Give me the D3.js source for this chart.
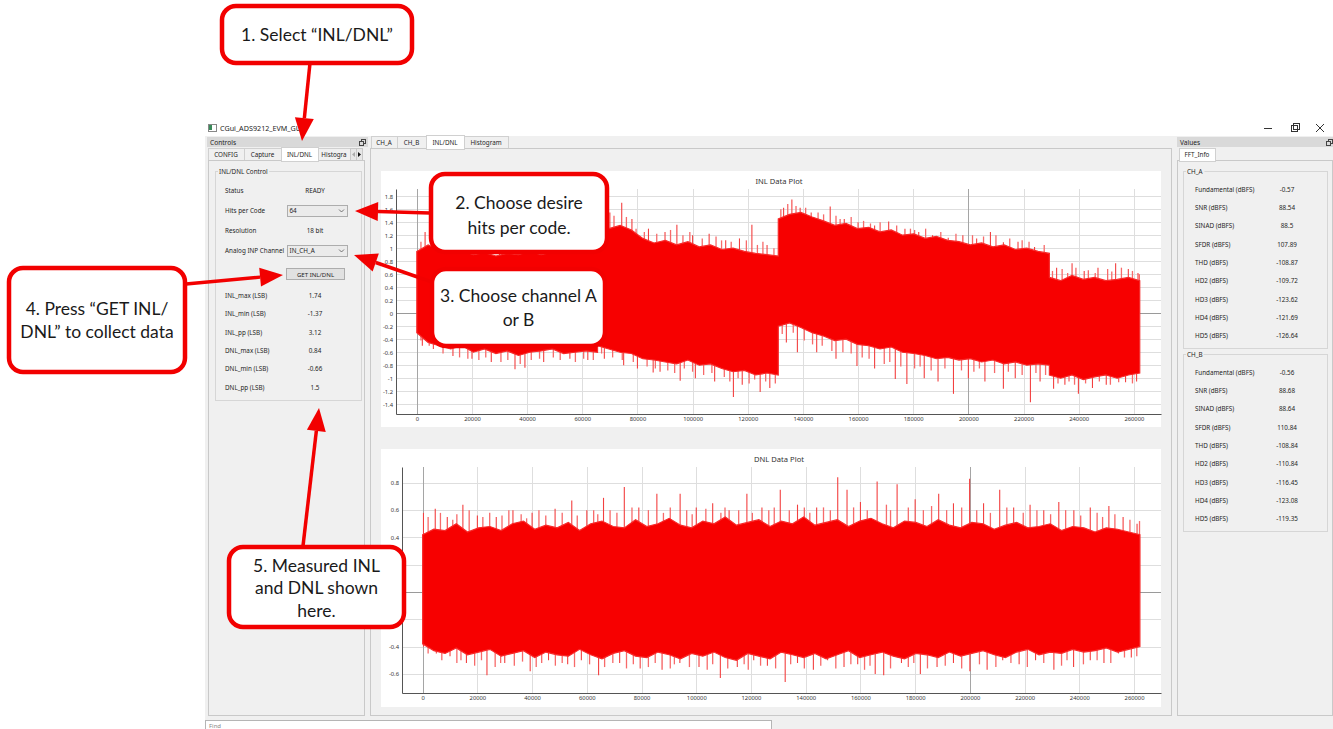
<!DOCTYPE html>
<html>
<head>
<meta charset="utf-8">
<script src="https://cdn.jsdelivr.net/npm/d3@7"></script>
<style>
  body { margin: 0; background: #fff; }
  svg { display: block; }
</style>
</head>
<body>
<div id="chart"></div>
<script>
// ---- INL trace: visible dense band (upper / lower edge), fringe hits and outlying spikes ----
var inlCodes = [0, 4096, 8192, 12288, 16384, 20480, 24576, 28672, 32768, 36864, 40960, 45056, 49152, 53248, 57344, 61440, 65535,
  65536, 69632, 73728, 77824, 81920, 86016, 90112, 94208, 98304, 102400, 106496, 110592, 114688, 118784, 122880, 126976, 131071,
  131072, 135168, 139264, 143360, 147456, 151552, 155648, 159744, 163840, 167936, 172032, 176128, 180224, 184320, 188416,
  192512, 196608, 200704, 204800, 208896, 212992, 217088, 221184, 225280, 229375,
  229376, 233472, 237568, 241664, 245760, 249856, 253952, 258048, 262143];
var inlUpper = [0.95, 1.05, 0.98, 0.92, 0.96, 0.9, 0.93, 0.88, 0.92, 0.9, 0.95, 0.9, 0.94, 0.92, 0.97, 0.93, 1.0,
  1.25, 1.3, 1.35, 1.28, 1.15, 1.08, 1.12, 1.05, 1.1, 1.02, 1.05, 0.98, 1.0, 0.95, 0.92, 0.9, 0.88,
  1.45, 1.52, 1.55, 1.48, 1.42, 1.35, 1.38, 1.3, 1.32, 1.25, 1.28, 1.2, 1.22, 1.15, 1.18,
  1.12, 1.1, 1.05, 1.08, 1.02, 1.05, 0.98, 1.0, 0.95, 0.92,
  0.55, 0.5, 0.58, 0.52, 0.55, 0.5, 0.52, 0.55, 0.5];
var inlLower = [-0.3, -0.45, -0.5, -0.55, -0.5, -0.6, -0.55, -0.62, -0.58, -0.65, -0.6, -0.58, -0.55, -0.62, -0.6, -0.58, -0.6,
  -0.5, -0.55, -0.6, -0.62, -0.7, -0.72, -0.75, -0.78, -0.72, -0.8, -0.78, -0.85, -0.9, -0.88, -0.95, -0.92, -0.95,
  -0.2, -0.15, -0.22, -0.3, -0.35, -0.42, -0.4, -0.48, -0.5, -0.55, -0.52, -0.6, -0.62, -0.65, -0.7,
  -0.68, -0.72, -0.7, -0.75, -0.72, -0.78, -0.75, -0.8, -0.78, -0.8,
  -0.95, -1.0, -0.95, -1.02, -0.98, -0.95, -1.0, -0.95, -0.92];
var inlFringeHi = [[1500,1.1],[5500,1.12],[10000,1.05],[14500,1.08],[17500,1.02],[23000,1.05],[26000,0.98],
  [33500,1.02],[36000,1.05],[42000,1.0],[44000,1.06],[50500,1.08],[53000,1.0],[58500,1.1],[63000,1.12],
  [67500,1.45],[71500,1.5],[76000,1.48],[79500,1.3],[82500,1.25],[87000,1.22],[92000,1.28],[96500,1.2],
  [99000,1.25],[103500,1.15],[108500,1.18],[110500,1.12],[114000,1.1],[119500,1.12],[123500,1.05],
  [125500,1.1],[129500,1.0],[132000,1.6],[134500,1.68],[137500,1.65],[141000,1.62],[145500,1.55],
  [147500,1.52],[152000,1.5],[153500,1.45],[157500,1.48],[162000,1.42],[164500,1.38],[168000,1.4],
  [174000,1.35],[179000,1.3],[180500,1.28],[184500,1.3],[190000,1.25],[195500,1.22],[201500,1.2],
  [205500,1.18],[210000,1.2],[215000,1.15],[219500,1.12],[222000,1.1],[227500,1.05],[230500,0.65],
  [234000,0.68],[236000,0.62],[239000,0.7],[243500,0.66],[246000,0.62],[250500,0.68],[252000,0.64],
  [255500,0.7],[259500,0.65],[262000,0.6]];
var inlFringeLo = [[1500,-0.42],[4500,-0.5],[9500,-0.62],[15500,-0.68],[18500,-0.7],[22500,-0.72],[25000,-0.68],
  [30500,-0.75],[33000,-0.72],[37500,-0.78],[41500,-0.72],[44500,-0.7],[49500,-0.68],[52000,-0.72],
  [57500,-0.75],[60500,-0.7],[64000,-0.72],[67000,-0.62],[71000,-0.68],[74500,-0.72],[78500,-0.75],
  [83500,-0.82],[86500,-0.85],[91000,-0.88],[93500,-0.92],[97000,-0.85],[100000,-0.9],[104000,-0.95],
  [107000,-0.92],[111500,-0.98],[113500,-1.05],[116500,-1.0],[120500,-1.08],[122500,-1.02],[126500,-1.05],
  [130000,-1.08],[132500,-0.32],[136500,-0.3],[140500,-0.42],[143500,-0.48],[147000,-0.5],[150500,-0.58],
  [154500,-0.6],[157500,-0.62],[161500,-0.68],[164000,-0.7],[169500,-0.78],[171500,-0.75],[175500,-0.82],
  [180500,-0.85],[182500,-0.82],[186500,-0.88],[191500,-0.85],[197500,-0.88],[202000,-0.9],[204000,-0.85],
  [209500,-0.92],[214500,-0.9],[219500,-0.95],[224500,-0.92],[228000,-0.95],[232500,-1.08],[236500,-1.05],
  [238500,-1.1],[242500,-1.08],[247500,-1.05],[251500,-1.1],[254500,-1.06],[259500,-1.08]];
var inlSpikesHi = [[3000,1.25],[8000,1.18],[12000,1.1],[20000,1.0],[30000,0.98],[38000,0.98],[47000,1.0],
  [55000,1.02],[61000,1.05],[66500,1.4],[70000,1.55],[74300,1.7],[78000,1.45],[84000,1.3],[90000,1.25],
  [94300,1.36],[100000,1.2],[106000,1.22],[112000,1.12],[117000,1.15],[121500,1.36],[127000,1.05],
  [133000,1.62],[136000,1.75],[139000,1.62],[143000,1.55],[149900,1.64],[155000,1.45],[160000,1.4],
  [166000,1.35],[171100,1.41],[177000,1.3],[182000,1.25],[187000,1.2],[192700,1.16],[198000,1.2],
  [203000,1.15],[208000,1.25],[212700,1.09],[218000,1.1],[224000,1.02],[232000,0.7],[237600,0.77],
  [242000,0.65],[247000,0.7],[253400,0.77],[258000,0.68],[261500,0.62]];
var inlSpikesLo = [[2000,-0.5],[6000,-0.55],[13100,-0.66],[20000,-0.7],[27000,-0.75],[35600,-0.86],
  [39200,-0.84],[46000,-0.75],[55500,-0.7],[62000,-0.72],[68000,-0.7],[75000,-0.8],[80000,-0.85],
  [85700,-0.91],[88200,-0.9],[95500,-1.04],[101000,-1.0],[108000,-1.05],[114800,-1.29],[118000,-1.1],
  [124500,-1.21],[128000,-1.15],[134000,-0.45],[138000,-0.6],[145000,-0.6],[152000,-0.7],[159600,-0.81],
  [166000,-0.85],[173500,-1.01],[177700,-1.09],[184000,-1.0],[189000,-1.05],[194600,-1.24],[200000,-1.0],
  [206000,-1.05],[212700,-1.16],[217000,-1.0],[222500,-1.37],[226000,-1.05],[230900,-1.16],[235000,-1.1],
  [239900,-1.24],[245000,-1.15],[250000,-1.1],[257000,-1.06],[261000,-1.05]];

// ---- DNL trace ----
var dnlCodes = [0, 4096, 8192, 12288, 16384, 20480, 24576, 28672, 32768, 36864, 40960, 45056, 49152, 53248, 57344, 61440,
  65536, 69632, 73728, 77824, 81920, 86016, 90112, 94208, 98304, 102400, 106496, 110592, 114688, 118784, 122880, 126976,
  131072, 135168, 139264, 143360, 147456, 151552, 155648, 159744, 163840, 167936, 172032, 176128, 180224, 184320, 188416,
  192512, 196608, 200704, 204800, 208896, 212992, 217088, 221184, 225280, 229376, 233472, 237568, 241664, 245760, 249856,
  253952, 258048, 262143];
var dnlUpper = [0.42, 0.46, 0.45, 0.5, 0.44, 0.47, 0.48, 0.45, 0.5, 0.52,
  0.46, 0.49, 0.47, 0.51, 0.45, 0.5, 0.52, 0.48, 0.47, 0.53,
  0.48, 0.5, 0.54, 0.49, 0.47, 0.52, 0.5, 0.55, 0.49, 0.51,
  0.53, 0.48, 0.52, 0.5, 0.55, 0.49, 0.51, 0.53, 0.48, 0.52,
  0.54, 0.5, 0.47, 0.52, 0.51, 0.48, 0.53, 0.49, 0.47, 0.51,
  0.5, 0.46, 0.49, 0.51, 0.47, 0.48, 0.5, 0.45, 0.48, 0.47,
  0.44, 0.47, 0.46, 0.44, 0.42];
var dnlLower = [-0.38, -0.43, -0.45, -0.41, -0.46, -0.44, -0.42, -0.47, -0.45, -0.43,
  -0.48, -0.44, -0.46, -0.47, -0.42, -0.46, -0.49, -0.45, -0.43, -0.47,
  -0.48, -0.44, -0.46, -0.49, -0.45, -0.47, -0.44, -0.48, -0.5, -0.45,
  -0.47, -0.49, -0.44, -0.46, -0.48, -0.45, -0.49, -0.46, -0.43, -0.48,
  -0.46, -0.44, -0.47, -0.49, -0.45, -0.46, -0.48, -0.44, -0.47, -0.45,
  -0.43, -0.46, -0.48, -0.44, -0.42, -0.46, -0.44, -0.45, -0.42, -0.44,
  -0.43, -0.41, -0.44, -0.42, -0.4];
var dnlFringeHi = [[2000,0.55],[6500,0.58],[11000,0.53],[12500,0.57],[17000,0.6],[22000,0.55],[24500,0.58],
  [29000,0.56],[31500,0.6],[36000,0.57],[38000,0.54],[42500,0.6],[45000,0.56],[51000,0.58],[56500,0.56],
  [62500,0.6],[64000,0.57],[68500,0.6],[71000,0.58],[76500,0.62],[82500,0.6],[88000,0.58],[90500,0.62],
  [96500,0.6],[98500,0.57],[103500,0.61],[109000,0.58],[110500,0.62],[115500,0.6],[120500,0.58],[126500,0.6],
  [128500,0.62],[134000,0.6],[139500,0.62],[141500,0.58],[146500,0.62],[149000,0.6],[157500,0.62],[162500,0.6],
  [169500,0.64],[171000,0.6],[177500,0.62],[183000,0.6],[186000,0.63],[191500,0.6],[197000,0.62],[202500,0.6],
  [207500,0.58],[213500,0.62],[219500,0.58],[224500,0.6],[229500,0.57],[235000,0.6],[240500,0.56],[246500,0.58],
  [248500,0.55],[253000,0.57],[258500,0.53],[262000,0.52]];
var dnlFringeLo = [[2000,-0.45],[7000,-0.5],[12500,-0.52],[14000,-0.5],[19000,-0.54],[21500,-0.5],[26500,-0.55],
  [28500,-0.52],[33500,-0.54],[36500,-0.51],[41500,-0.55],[43500,-0.52],[48500,-0.54],[51000,-0.52],[55500,-0.55],
  [61000,-0.53],[66500,-0.55],[69500,-0.52],[74500,-0.56],[77000,-0.53],[82500,-0.55],[85000,-0.52],[90500,-0.56],
  [92000,-0.53],[97500,-0.55],[104000,-0.57],[106000,-0.53],[111500,-0.56],[117500,-0.53],[119000,-0.57],
  [123500,-0.54],[129000,-0.56],[134500,-0.53],[139500,-0.56],[145500,-0.54],[151000,-0.56],[156500,-0.53],
  [161500,-0.57],[163500,-0.54],[171000,-0.56],[177500,-0.55],[179500,-0.52],[184500,-0.56],[191000,-0.54],
  [197000,-0.56],[203500,-0.53],[209500,-0.55],[215000,-0.52],[221000,-0.55],[227000,-0.52],[233500,-0.54],
  [235500,-0.5],[241500,-0.53],[246500,-0.5],[251500,-0.52],[256500,-0.48],[261000,-0.47]];
var dnlSpikesHi = [[300,0.58],[4600,0.61],[9000,0.55],[14700,0.64],[20000,0.56],[26900,0.55],[33000,0.6],
  [40000,0.58],[48400,0.61],[54500,0.67],[60000,0.6],[66100,0.69],[73700,0.77],[79000,0.62],[85600,0.72],
  [94100,0.72],[100000,0.62],[106000,0.65],[112000,0.6],[118500,0.72],[124000,0.62],[130700,0.75],
  [137000,0.64],[144000,0.62],[151700,0.84],[155100,0.75],[160000,0.66],[166100,0.81],[173400,0.79],
  [180000,0.68],[188600,0.72],[194000,0.65],[199900,0.83],[205000,0.65],[210900,0.75],[216000,0.62],
  [222000,0.64],[227000,0.6],[232500,0.66],[238000,0.6],[244000,0.62],[250800,0.63],[256000,0.55],[261100,0.5]];
var dnlSpikesLo = [[300,-0.4],[5000,-0.45],[10000,-0.47],[16000,-0.52],[23500,-0.61],[30000,-0.52],
  [39300,-0.58],[46000,-0.5],[53000,-0.53],[58000,-0.5],[64300,-0.61],[72000,-0.52],[79500,-0.56],
  [87500,-0.57],[94000,-0.52],[101000,-0.55],[108800,-0.63],[115000,-0.55],[121000,-0.5],[126000,-0.54],
  [132500,-0.66],[137000,-0.52],[142800,-0.57],[148000,-0.5],[154000,-0.55],[159000,-0.53],[165400,-0.6],
  [168500,-0.61],[175000,-0.52],[181900,-0.6],[188000,-0.55],[194000,-0.52],[200000,-0.58],[206300,-0.57],
  [212000,-0.5],[218000,-0.53],[224000,-0.5],[230700,-0.57],[237900,-0.55],[244000,-0.5],[249000,-0.52],
  [254300,-0.45],[259000,-0.48]];

// ---- ticks ----
var codeTicks = [0, 20000, 40000, 60000, 80000, 100000, 120000, 140000, 160000, 180000, 200000, 220000, 240000, 260000];
var inlTicks = [-1.4, -1.2, -1, -0.8, -0.6, -0.4, -0.2, 0, 0.2, 0.4, 0.6, 0.8, 1, 1.2, 1.4, 1.6, 1.8];
var dnlTicks = [-0.6, -0.4, -0.2, 0, 0.2, 0.4, 0.6, 0.8];

// ---- GUI text ----
var setupLabels = ["Status", "Hits per Code", "Resolution", "Analog INP Channel"];
var setupValues = ["READY", "64", "18 bit", "IN_CH_A"];
var resultLabels = ["INL_max (LSB)", "INL_min (LSB)", "INL_pp (LSB)", "DNL_max (LSB)", "DNL_min (LSB)", "DNL_pp (LSB)"];
var resultValues = ["1.74", "-1.37", "3.12", "0.84", "-0.66", "1.5"];
var fftLabels = ["Fundamental (dBFS)", "SNR (dBFS)", "SINAD (dBFS)", "SFDR (dBFS)", "THD (dBFS)",
  "HD2 (dBFS)", "HD3 (dBFS)", "HD4 (dBFS)", "HD5 (dBFS)"];
var chAValues = ["-0.57", "88.54", "88.5", "107.89", "-108.87", "-109.72", "-123.62", "-121.69", "-126.64"];
var chBValues = ["-0.56", "88.68", "88.64", "110.84", "-108.84", "-110.84", "-116.45", "-123.08", "-119.35"];

var ui = "'Noto Sans', 'DejaVu Sans', sans-serif";
var callRed = "#f20000";

var svg = d3.select("#chart").append("svg")
    .attr("width", 1333)
    .attr("height", 729);

function rect(x, y, w, h, fill, stroke) {
  return svg.append("rect").attr("x", x).attr("y", y).attr("width", w).attr("height", h)
    .attr("fill", fill).attr("stroke", stroke || "none").attr("shape-rendering", "crispEdges");
}
function txt(x, y, s, size, anchor, fill) {
  return svg.append("text").attr("x", x).attr("y", y)
    .attr("font-family", ui).attr("font-size", size)
    .attr("text-anchor", anchor || "start")
    .attr("dominant-baseline", "central")
    .attr("fill", fill || "#1e1e1e").text(s);
}

// window frame
rect(205, 136, 1128, 593, "#f0f0f0");
rect(208, 124, 8, 7, "#fff", "#888");
rect(209, 125, 3, 5, "#3a8a5a");
txt(220, 128, "CGui_ADS9212_EVM_GUI", 7.2);
svg.append("line").attr("x1", 1264).attr("x2", 1272).attr("y1", 128.5).attr("y2", 128.5).attr("stroke", "#333");
rect(1291.5, 125.5, 6, 6, "none", "#333");
rect(1293.5, 123.5, 6, 6, "none", "#333");
svg.append("path").attr("d", "M1316,124L1324,132M1324,124L1316,132").attr("stroke", "#333");

// dock title bars
function floatIcon(x, y) {
  rect(x + 1.5, y - 2.5, 4, 4, "none", "#444");
  rect(x - 0.5, y - 0.5, 4, 4, "#dadada", "#444");
}
rect(207, 137, 161, 10, "#d9d9d9");
txt(210, 142, "Controls", 6.6);
floatIcon(360, 142);
rect(1177, 137, 156, 10, "#d9d9d9");
txt(1180, 142, "Values", 6.6);
floatIcon(1327, 142);

// tabs
function tabs(list, y, h) {
  list.forEach(function(t) {
    rect(t[0] + 0.5, y + 0.5, t[1] - t[0], h, t[3] ? "#fff" : "#f0f0f0", "#d0d0d0");
    txt((t[0] + t[1]) / 2, y + h / 2 + 0.5, t[2], 6.3, "middle");
  });
}
tabs([[208, 244, "CONFIG"], [244, 281, "Capture"], [318, 350, "Histogra"]], 148, 12);
rect(350.5, 148.5, 6, 12, "#e6e6e6", "#c8c8c8");
rect(356.5, 148.5, 6, 12, "#e6e6e6", "#c8c8c8");
svg.append("path").attr("d", "M355,152L352,154.5L355,157Z").attr("fill", "#aaa");
svg.append("path").attr("d", "M358,152L361,154.5L358,157Z").attr("fill", "#111");
tabs([[371, 397, "CH_A"], [397, 426, "CH_B"], [464, 508, "Histogram"]], 136, 12);

// panes
rect(208.5, 160.5, 156, 555, "#f0f0f0", "#c9c9c9");
rect(370.5, 148.5, 801, 567, "#f0f0f0", "#c9c9c9");
rect(1177.5, 160.5, 155, 555, "#f0f0f0", "#c9c9c9");
// selected tabs drawn over pane borders
tabs([[281, 318, "INL/DNL", true]], 147, 13.5);
tabs([[426, 464, "INL/DNL", true]], 135, 13.5);
tabs([[1179, 1215, "FFT_Info", true]], 148, 12.5);

function groupBox(x, y, w, h, title) {
  rect(x + 0.5, y + 0.5, w, h, "none", "#d6d6d6");
  var t = txt(x + 4, y + 0.5, title, 6.3);
  var bb = t.node().getBBox();
  svg.insert("rect", function() { return t.node(); })
    .attr("x", bb.x - 1).attr("y", bb.y).attr("width", bb.width + 2).attr("height", bb.height)
    .attr("fill", "#f0f0f0");
}

// INL/DNL control group
groupBox(215, 171, 146, 229, "INL/DNL Control");
var setupY = [190, 210.5, 230.5, 250.5];
setupLabels.forEach(function(l, i) {
  txt(225, setupY[i], l, 6.3);
  if (i === 1 || i === 3) {
    rect(287.5, setupY[i] - 5.5, 60, 11, "#ebebeb", "#adadad");
    txt(289.5, setupY[i], setupValues[i], 6.3);
    svg.append("path").attr("d", "M339," + (setupY[i] - 1) + "l2.5,2.5l2.5,-2.5")
      .attr("fill", "none").attr("stroke", "#555").attr("stroke-width", 0.8);
  } else {
    txt(315, setupY[i], setupValues[i], 6.3, "middle");
  }
});
rect(286.5, 268.5, 58, 11, "#e1e1e1", "#adadad");
txt(315.5, 274, "GET INL/DNL", 6.1, "middle");
resultLabels.forEach(function(l, i) {
  var y = 295.5 + i * 18.3;
  txt(225, y, l, 6.3);
  txt(315, y, resultValues[i], 6.3, "middle");
});

// FFT info groups
function fftGroup(y0, title, values) {
  groupBox(1183, y0, 144, 177, title);
  fftLabels.forEach(function(l, i) {
    var y = y0 + 18 + i * 18.35;
    txt(1195, y, l, 6.3);
    txt(1287, y, values[i], 6.3, "middle");
  });
}
fftGroup(171, "CH_A", chAValues);
fftGroup(354, "CH_B", chBValues);

// find bar
rect(205.5, 720.5, 566, 10, "#fff", "#b5b5b5");
txt(209, 726, "Find", 6, "start", "#888");

// ---- plots ----
function drawPlot(p) {
  rect(p.px, p.py, p.pw, p.ph, "#fff");
  txt(p.px + p.pw / 2 + 8, p.py + 10, p.title, 7.6, "middle", "#333");

  var x = d3.scaleLinear().domain([-7550, 269850]).range([p.left, p.right]);
  var y = d3.scaleLinear().domain(p.yDomain).range([p.bottom, p.top]);
  var g = svg.append("g");

  g.selectAll("line.hg").data(p.yTicks).enter().append("line")
    .attr("x1", p.left).attr("x2", p.right)
    .attr("y1", function(d) { return Math.round(y(d)) + 0.5; })
    .attr("y2", function(d) { return Math.round(y(d)) + 0.5; })
    .attr("stroke", function(d) { return d === 0 ? "#9a9a9a" : "#dedede"; });
  g.selectAll("line.vg").data(codeTicks).enter().append("line")
    .attr("y1", p.top).attr("y2", p.bottom)
    .attr("x1", function(d) { return Math.round(x(d)) + 0.5; })
    .attr("x2", function(d) { return Math.round(x(d)) + 0.5; })
    .attr("stroke", function(d) { return (d === 0 || d === 200000) ? "#a5a5a5" : "#dedede"; });

  var clipId = "clip" + p.title.charAt(0);
  svg.append("clipPath").attr("id", clipId).append("rect")
    .attr("x", p.left).attr("y", p.top).attr("width", p.right - p.left).attr("height", p.bottom - p.top);
  var d = g.append("g").attr("clip-path", "url(#" + clipId + ")");

  var band = p.codes.map(function(c, i) { return {c: c, hi: p.upper[i], lo: p.lower[i]}; });
  var area = d3.area()
    .x(function(e) { return x(e.c); })
    .y0(function(e) { return y(e.lo); })
    .y1(function(e) { return y(e.hi); });

  function hits(list, colour, w) {
    d.append("g").selectAll("line").data(list).enter().append("line")
      .attr("x1", function(e) { return x(e[0]); })
      .attr("x2", function(e) { return x(e[0]); })
      .attr("y1", y(0))
      .attr("y2", function(e) { return y(e[1]); })
      .attr("stroke", colour).attr("stroke-width", w);
  }
  hits(p.fringeHi.concat(p.fringeLo), "#f76a6a", 1.3);
  hits(p.spikesHi.concat(p.spikesLo), "#f34040", 1.1);
  d.append("path").datum(band).attr("d", area)
    .attr("fill", "#f70000").attr("stroke", "#f72a2a").attr("stroke-width", 1.2);

  g.append("g").attr("transform", "translate(" + p.left + ",0)")
    .call(d3.axisLeft(y).tickValues(p.yTicks).tickSize(0).tickPadding(3)
      .tickFormat(function(v) { return String(+v.toFixed(1)); }))
    .call(function(a) {
      a.select(".domain").attr("stroke", "#555");
      a.selectAll("text").attr("font-size", 5.8).attr("font-family", ui).attr("fill", "#333");
    });
  g.append("g").attr("transform", "translate(0," + p.bottom + ")")
    .call(d3.axisBottom(x).tickValues(codeTicks).tickSize(0).tickPadding(3).tickFormat(d3.format("d")))
    .call(function(a) {
      a.select(".domain").attr("stroke", "#555");
      a.selectAll("text").attr("font-size", 5.8).attr("font-family", ui).attr("fill", "#333");
    });
}

drawPlot({title: "INL Data Plot", px: 381, py: 171, pw: 780, ph: 256,
  left: 396, right: 1161, top: 189, bottom: 414, yDomain: [-1.55, 1.91], yTicks: inlTicks,
  codes: inlCodes, upper: inlUpper, lower: inlLower, fringeHi: inlFringeHi, fringeLo: inlFringeLo,
  spikesHi: inlSpikesHi, spikesLo: inlSpikesLo});
drawPlot({title: "DNL Data Plot", px: 381, py: 449, pw: 780, ph: 258,
  left: 402, right: 1161, top: 467, bottom: 693, yDomain: [-0.74, 0.916], yTicks: dnlTicks,
  codes: dnlCodes, upper: dnlUpper, lower: dnlLower, fringeHi: dnlFringeHi, fringeLo: dnlFringeLo,
  spikesHi: dnlSpikesHi, spikesLo: dnlSpikesLo});

// ---- callouts ----
function arrow(x1, y1, x2, y2) {
  var a = Math.atan2(y2 - y1, x2 - x1), L = 23, W = 9.5;
  var bx = x2 - L * Math.cos(a), by = y2 - L * Math.sin(a);
  svg.append("line").attr("x1", x1).attr("y1", y1).attr("x2", bx).attr("y2", by)
    .attr("stroke", callRed).attr("stroke-width", 3.5);
  svg.append("path")
    .attr("d", "M" + x2 + "," + y2 +
      "L" + (bx + W * Math.sin(a)) + "," + (by - W * Math.cos(a)) +
      "L" + (bx - W * Math.sin(a)) + "," + (by + W * Math.cos(a)) + "Z")
    .attr("fill", callRed);
}
function callout(x, y, w, h, lines, lineY) {
  svg.append("rect").attr("x", x).attr("y", y).attr("width", w).attr("height", h)
    .attr("rx", 14).attr("ry", 14)
    .attr("fill", "#fff").attr("stroke", callRed).attr("stroke-width", 4.5);
  lines.forEach(function(s, i) {
    svg.append("text").attr("x", x + w / 2).attr("y", lineY[i])
      .attr("text-anchor", "middle").attr("dominant-baseline", "central")
      .attr("font-family", "Lato, 'Open Sans', sans-serif").attr("font-size", 17.5)
      .attr("fill", "#1a1a1a").text(s);
  });
}

arrow(310, 63, 302, 141);
arrow(430, 213, 355, 211);
arrow(432, 282, 354, 255);
arrow(186, 284, 283, 275);
arrow(303, 546, 319, 408);

callout(222, 6, 190, 57, ["1. Select \u201cINL/DNL\u201d"], [34]);
callout(431, 174, 176, 78, ["2. Choose desire", "hits per code."], [202, 227]);
callout(432, 269, 173, 77, ["3. Choose channel A", "or B"], [295, 319]);
callout(9, 268, 176, 104, ["4. Press \u201cGET INL/", "DNL\u201d to collect data"], [308, 331]);
callout(229, 547, 175, 80, ["5. Measured INL", "and DNL shown", "here."], [565, 587, 610]);
</script>
</body>
</html>
